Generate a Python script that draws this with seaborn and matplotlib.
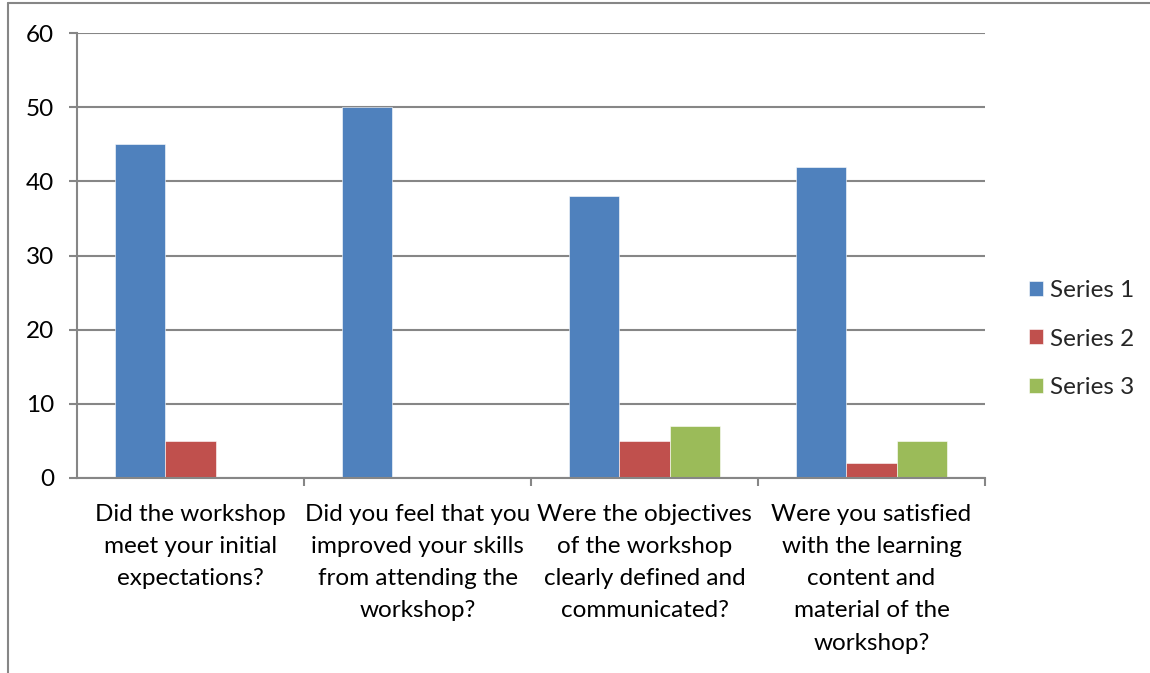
import matplotlib
matplotlib.use("Agg")
import matplotlib.pyplot as plt
from matplotlib.lines import Line2D
from matplotlib.ticker import MultipleLocator, FixedLocator
import seaborn as sns
import pandas as pd

categories = [
    "Did the workshop\nmeet your initial\nexpectations?",
    "Did you feel that you\nimproved your skills\nfrom attending the\nworkshop?",
    "Were the objectives\nof the workshop\nclearly defined and\ncommunicated?",
    "Were you satisfied\nwith the learning\ncontent and\nmaterial of the\nworkshop?",
]
series_names = ["Series 1", "Series 2", "Series 3"]
series1 = [45, 50, 38, 42]
series2 = [5, 0, 5, 2]
series3 = [0, 0, 7, 5]
colors = ["#4F81BD", "#C0504D", "#9BBB59"]

rows = []
for name, vals in zip(series_names, [series1, series2, series3]):
    for c, v in zip(categories, vals):
        rows.append({"category": c, "series": name, "value": v})
df = pd.DataFrame(rows)

sns.set_theme(style="white")
plt.rcParams["font.family"] = ["Lato", "DejaVu Sans"]

FS = 17.5
fig = plt.figure(figsize=(11.5, 6.73), dpi=100)
ax = fig.add_axes([77/1150, 1-478/673, (985-77)/1150, (478-33)/673])

sns.barplot(data=df, x="category", y="value", hue="series", palette=colors,
            width=2/3, ax=ax, saturation=1, edgecolor="white", linewidth=0.4)

grid_c = "#868686"
ax.set_xlim(-0.5, 3.5)
ax.set_ylim(0, 60)
ax.yaxis.set_major_locator(MultipleLocator(10))
ax.set_axisbelow(True)
ax.grid(axis="y", color=grid_c, linewidth=1.5)
ax.grid(axis="x", visible=False)
for s in ["top", "right"]:
    ax.spines[s].set_visible(False)
for s in ["left", "bottom"]:
    ax.spines[s].set_color(grid_c)
    ax.spines[s].set_linewidth(1.5)

ax.set_xlabel("")
ax.set_ylabel("")
ax.tick_params(axis="y", length=6, width=1.5, color=grid_c, pad=10.5, labelsize=FS, labelcolor="black", left=True)
ax.tick_params(axis="x", which="major", length=0, pad=18.5, labelsize=FS, labelcolor="black")
ax.xaxis.set_minor_locator(FixedLocator([0.5, 1.5, 2.5, 3.5]))
ax.tick_params(axis="x", which="minor", length=6, width=1.5, color=grid_c, bottom=True)
for lbl in ax.get_xticklabels():
    lbl.set_linespacing(1.66)
    lbl.set_horizontalalignment("center")

handles, labels = ax.get_legend_handles_labels()
ax.get_legend().remove()
fig.legend(handles, labels, loc="center left", bbox_to_anchor=(1029/1150, 1-339/673),
           bbox_transform=fig.transFigure, frameon=False,
           fontsize=FS, handlelength=0.58, handleheight=0.58,
           handletextpad=0.27, labelspacing=1.12, borderaxespad=0, borderpad=0)

fig.add_artist(Line2D([8/1150, 8/1150], [0, 1-3/673], transform=fig.transFigure, color=grid_c, linewidth=1.5))
fig.add_artist(Line2D([8/1150, 1], [1-3/673, 1-3/673], transform=fig.transFigure, color=grid_c, linewidth=1.5))

fig.savefig("out.png", dpi=100, facecolor="white")
